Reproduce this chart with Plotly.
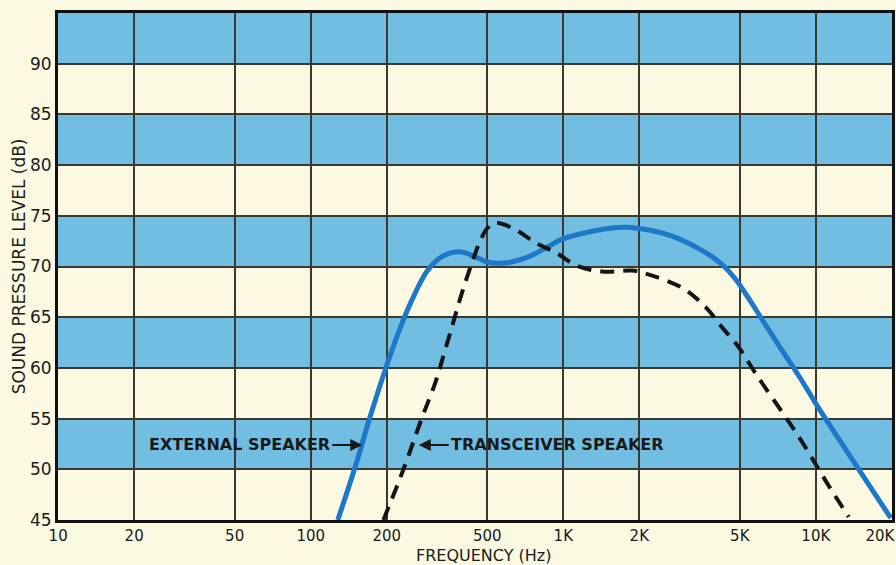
import math
import plotly.graph_objects as go

# Frequency axis ticks (Hz) and labels
freq_ticks = [10, 20, 50, 100, 200, 500, 1000, 2000, 5000, 10000, 20000]
freq_labels = ["10", "20", "50", "100", "200", "500", "1K", "2K", "5K", "10K",
               "20K\u00a0\u00a0\u00a0\u00a0\u00a0"]

# Sound pressure level ticks (dB)
spl_ticks = [45, 50, 55, 60, 65, 70, 75, 80, 85, 90]

# External speaker response
ext_freq = [128, 149, 171, 196, 225, 255, 290, 332, 388, 444, 509, 610, 735, 856,
            991, 1350, 1665, 2000, 2697, 3675, 4251, 4829, 5436, 6117, 7141, 8570,
            10280, 14790, 19790]
ext_db = [45.0, 50.0, 55.0, 59.6, 63.8, 67.0, 69.6, 71.0, 71.45, 71.0, 70.4, 70.4,
          71.0, 71.85, 72.7, 73.55, 73.85, 73.75, 73.0, 71.35, 70.2, 68.7, 66.8,
          64.8, 62.2, 59.2, 56.0, 50.0, 45.2]

# Transceiver speaker response
trx_freq = [194, 233, 275, 312, 338, 364, 388, 414, 441, 470, 501, 534, 629, 782,
            938, 1126, 1426, 1874, 2120, 2954, 3675, 4251, 4962, 5792, 7141, 8570,
            10090, 11560, 13500]
trx_db = [45.0, 50.0, 55.0, 58.6, 61.5, 64.2, 66.6, 68.8, 70.8, 72.6, 73.8, 74.3,
          73.8, 72.3, 71.35, 70.1, 69.5, 69.6, 69.3, 67.9, 65.95, 64.0, 62.0, 59.4,
          56.1, 53.2, 50.3, 47.9, 45.3]

# Shaded level bands (dB ranges)
band_ranges = [(50, 55), (60, 65), (70, 75), (80, 85), (90, 95)]

cream = "#FCF9E2"
band_blue = "#72BDE2"
grid_col = "#3B3A30"
ink = "#1A1A1A"
font_family = "DejaVu Sans, Liberation Sans, sans-serif"

fig = go.Figure()

fig.add_trace(go.Scatter(
    x=ext_freq, y=ext_db, mode="lines",
    line=dict(color="#1E78C8", width=5, shape="spline", smoothing=1.0),
    hoverinfo="skip", showlegend=False,
))
fig.add_trace(go.Scatter(
    x=trx_freq, y=trx_db, mode="lines",
    line=dict(color="#151515", width=4, shape="spline", smoothing=1.0, dash="14px,9px"),
    hoverinfo="skip", showlegend=False,
))

for lo, hi in band_ranges:
    fig.add_shape(type="rect", xref="paper", yref="y", x0=0, x1=1, y0=lo, y1=hi,
                  fillcolor=band_blue, line=dict(width=0), layer="below")

# Curve labels with arrows
fig.add_annotation(
    x=math.log10(160), y=52.4, ax=-30, ay=0, axref="pixel", ayref="pixel",
    text="<b>EXTERNAL SPEAKER</b>", xanchor="right", showarrow=True,
    arrowhead=2, arrowsize=1.2, arrowwidth=2, arrowcolor=ink,
    font=dict(family=font_family, size=16, color=ink),
)
fig.add_annotation(
    x=math.log10(268), y=52.4, ax=30, ay=0, axref="pixel", ayref="pixel",
    text="<b>TRANSCEIVER SPEAKER</b>", xanchor="left", showarrow=True,
    arrowhead=2, arrowsize=1.2, arrowwidth=2, arrowcolor=ink,
    font=dict(family=font_family, size=16, color=ink),
)

# Axis titles
fig.add_annotation(
    xref="paper", yref="paper", x=0.51, y=-0.070, yanchor="middle",
    text="FREQUENCY (Hz)", showarrow=False,
    font=dict(family=font_family, size=16, color=ink),
)
fig.add_annotation(
    xref="paper", yref="paper", x=-0.047, y=0.5, xanchor="center", textangle=-90,
    text="SOUND PRESSURE LEVEL (dB)", showarrow=False,
    font=dict(family=font_family, size=17, color=ink),
)

fig.update_xaxes(
    type="log", range=[1 - 0.0005, math.log10(20000) + 0.0005],
    tickvals=freq_ticks, ticktext=freq_labels, ticklabeloverflow="allow",
    automargin=False,
    showgrid=True, gridcolor=grid_col, gridwidth=1.5,
    showline=True, linecolor="#111111", linewidth=3, mirror=True,
    ticks="", zeroline=False,
    tickfont=dict(family=font_family, size=15, color=ink),
)
fig.update_yaxes(
    range=[45, 95], tickvals=spl_ticks, automargin=False,
    showgrid=True, gridcolor=grid_col, gridwidth=1.5,
    showline=True, linecolor="#111111", linewidth=3, mirror=True,
    ticks="", zeroline=False,
    tickfont=dict(family=font_family, size=17, color=ink),
)

fig.update_layout(
    width=896, height=565,
    margin=dict(l=58, r=4, t=13, b=45),
    paper_bgcolor=cream, plot_bgcolor=cream,
)

fig.write_html("out.html")
